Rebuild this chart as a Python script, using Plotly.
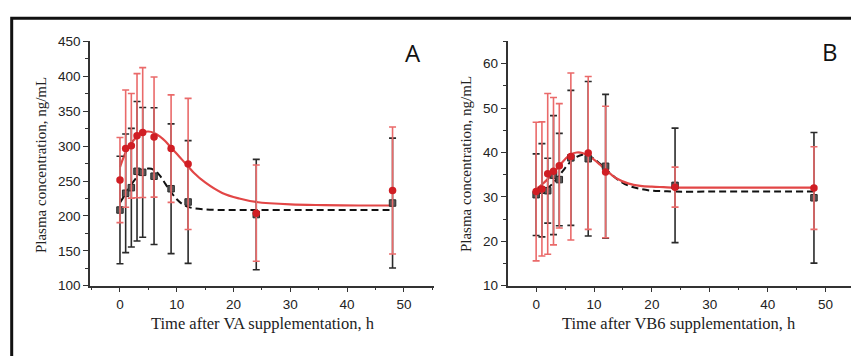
import plotly.graph_objects as go

W, H = 851, 356

# ---------------- data ----------------
time_h = [0, 1, 2, 3, 4, 6, 9, 12, 24, 48]

# Panel A (VA)
va_red_mean = [251.5, 296.5, 300.5, 315, 319.5, 313, 296.5, 274.5, 204, 236.5]
va_red_sd = [61, 84, 75, 89, 93, 86, 77, 94, 69, 91]
va_blk_mean = [208.5, 232.5, 240.5, 264, 262.5, 257, 239, 220, 202, 218.5]
va_blk_sd = [77, 85, 85, 100, 93, 98, 93, 88, 79, 93]

fit_t_a = [0, 1, 2, 3, 4, 5, 6, 7, 8, 9, 10, 11, 12, 13, 15, 18, 21, 24, 30, 36, 42, 48]
va_red_fit = [270, 291, 304, 314, 319.5, 321, 319, 314, 307, 298, 289, 280, 271, 262, 248, 233, 225, 220, 216.5, 215.5, 215, 215]
va_blk_fit = [219, 232, 245, 256, 264, 268, 266, 258, 246, 234, 224, 217, 213, 211, 209.5, 208.5, 208.5, 208.5, 208.5, 208.5, 208.5, 208.5]

# Panel B (VB6)
vb_red_mean = [31.2, 31.8, 35.2, 35.8, 37.0, 39.1, 39.9, 35.6, 32.2, 32.0]
vb_red_sd = [15.6, 15.1, 18.1, 16.6, 14.0, 18.8, 17.2, 14.8, 4.5, 9.3]
vb_blk_mean = [30.5, 31.5, 31.4, 34.9, 33.9, 38.8, 38.6, 36.9, 32.6, 29.8]
vb_blk_sd = [9.2, 10.5, 7.3, 13.4, 10.4, 15.2, 17.4, 16.2, 12.9, 14.7]

fit_t_b = [0, 1, 2, 3, 4, 5, 6, 7, 8, 9, 10, 11, 12, 13, 14, 16, 18, 20, 22, 24, 30, 36, 42, 48]
vb_red_fit = [31.8, 32.8, 34.0, 35.4, 37.0, 38.5, 39.6, 40.0, 39.9, 39.3, 38.4, 37.3, 36.1, 35.0, 34.1, 33.0, 32.5, 32.3, 32.2, 32.1, 32.1, 32.1, 32.1, 32.1]
vb_blk_fit = [31.0, 31.4, 32.0, 33.2, 34.8, 36.5, 38.0, 39.0, 39.5, 39.3, 38.6, 37.5, 36.3, 35.1, 34.0, 32.5, 31.8, 31.4, 31.3, 31.2, 31.2, 31.2, 31.2, 31.2]

x_ticks = [0, 10, 20, 30, 40, 50]
a_ticks = [100, 150, 200, 250, 300, 350, 400, 450]
b_ticks = [10, 20, 30, 40, 50, 60]

# ---------------- styles ----------------
RED_M = "#d01e24"
RED_BAR = "#ea6a6a"
RED_LINE = "#e24646"
BLK_M = "#555555"
BLK_BAR = "#2a2a2a"

fig = go.Figure()


def add_panel(xa, ya, red_mean, red_sd, blk_mean, blk_sd, fit_t, red_fit, blk_fit):
    fig.add_trace(go.Scatter(x=fit_t, y=blk_fit, mode="lines",
                             line=dict(color="#111", width=2, dash="7px,4px", shape="spline"),
                             xaxis=xa, yaxis=ya, showlegend=False, hoverinfo="skip"))
    fig.add_trace(go.Scatter(x=fit_t, y=red_fit, mode="lines", line=dict(color=RED_LINE, width=2.2, shape="spline"),
                             xaxis=xa, yaxis=ya, showlegend=False, hoverinfo="skip"))
    fig.add_trace(go.Scatter(x=time_h, y=blk_mean, mode="markers",
                             marker=dict(symbol="square", size=6.5, color=BLK_M, line=dict(color="#2a2a2a", width=1)),
                             error_y=dict(type="data", array=blk_sd, color=BLK_BAR, thickness=1.6, width=3.5),
                             xaxis=xa, yaxis=ya, showlegend=False))
    fig.add_trace(go.Scatter(x=time_h, y=red_mean, mode="markers",
                             marker=dict(symbol="circle", size=7.5, color=RED_M),
                             error_y=dict(type="data", array=red_sd, color=RED_BAR, thickness=1.6, width=3.5),
                             xaxis=xa, yaxis=ya, showlegend=False))


add_panel("x", "y", va_red_mean, va_red_sd, va_blk_mean, va_blk_sd, fit_t_a, va_red_fit, va_blk_fit)
add_panel("x2", "y2", vb_red_mean, vb_red_sd, vb_blk_mean, vb_blk_sd, fit_t_b, vb_red_fit, vb_blk_fit)

tickfont = dict(family="Liberation Sans, Arial", size=13.5, color="#222")
y_dom = [1 - 291 / H, 1 - 36 / H]

common_ax = dict(showline=True, linecolor="#333", linewidth=1.5, ticks="outside", ticklen=5, tickwidth=1.2,
                 tickcolor="#333", showgrid=False, zeroline=False, tickfont=tickfont)

fig.update_layout(
    width=W, height=H, margin=dict(l=0, r=0, t=0, b=0),
    paper_bgcolor="white", plot_bgcolor="white",
    xaxis=dict(domain=[90 / W, 434 / W], range=[-5.28, 55.3], tickvals=x_ticks, anchor="y",
               minor=dict(dtick=5, ticks="outside", ticklen=3, tickcolor="#333"), **common_ax),
    yaxis=dict(domain=y_dom, range=[100, 450], tickvals=a_ticks, anchor="x",
               minor=dict(dtick=25, ticks="outside", ticklen=3, tickcolor="#333"), **common_ax),
    xaxis2=dict(domain=[507.6 / W, 1.0], range=[-4.93, 54.4], tickvals=x_ticks, anchor="y2",
                minor=dict(dtick=5, ticks="outside", ticklen=3, tickcolor="#333"), **common_ax),
    yaxis2=dict(domain=y_dom, range=[10, 65], tickvals=b_ticks, anchor="x2",
                minor=dict(dtick=5, ticks="outside", ticklen=3, tickcolor="#333"), **common_ax),
)

titlefont_y = dict(family="Liberation Serif, Times New Roman", size=15, color="#222")
titlefont_x = dict(family="Liberation Serif, Times New Roman", size=16.5, color="#222")


def px_ann(text, x, y, angle=0, font=titlefont_y):
    fig.add_annotation(text=text, x=x / W, y=1 - y / H, xref="paper", yref="paper", showarrow=False,
                       textangle=angle, font=font, xanchor="center", yanchor="middle")


px_ann("Plasma concentration, ng/mL", 41, 165, -90)
px_ann("Plasma concentration, ng/mL", 466, 164, -90)
px_ann("Time after VA supplementation, h", 263, 330, font=titlefont_x)
px_ann("Time after VB6 supplementation, h", 679, 330, font=titlefont_x)

letter_font = dict(family="Open Sans, Noto Sans", size=24, color="#111")
px_ann("A", 413, 47, font=letter_font)
px_ann("B", 830, 46, font=letter_font)

# outer frame (top and left edges visible)
fig.add_shape(type="rect", xref="paper", yref="paper", x0=11.7 / W, x1=1.05, y0=-0.1, y1=1 - 11.7 / H,
              line=dict(color="#111", width=3), fillcolor="rgba(0,0,0,0)", layer="above")

fig.write_html("out.html")
